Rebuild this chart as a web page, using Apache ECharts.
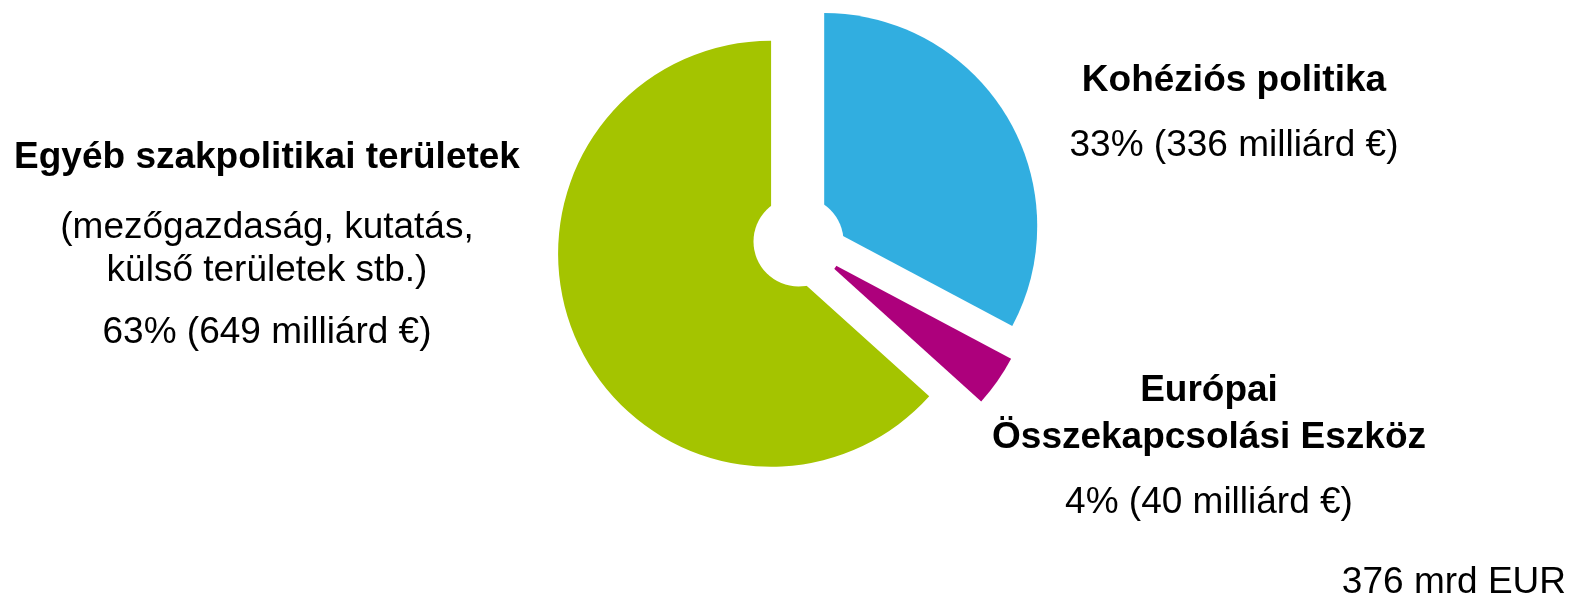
<!DOCTYPE html>
<html><head><meta charset="utf-8">
<script src="https://cdn.jsdelivr.net/npm/echarts@6/dist/echarts.min.js"></script>
<style>html,body{margin:0;padding:0;background:#fff}#c{width:1572px;height:598px}</style>
</head><body><div id="c"></div>
<script>
// ---- data ----
const categories = ['Kohéziós politika', 'Európai\nÖsszekapcsolási Eszköz', 'Egyéb szakpolitikai területek'];
const notes = ['', '', '(mezőgazdaság, kutatás,\nkülső területek stb.)'];
const values = [336, 40, 649];
const percents = [33, 4, 63];
const unitText = 'milliárd €';
const totalNote = '376 mrd EUR';

// ---- styles / layout ----
const colors = ['#31AEE0', '#AD007C', '#A4C400'];
const FONT = '"Liberation Sans", Arial, Helvetica, sans-serif';
const FS = 37;
const labelPos = [{x: 1234, y: 59}, {x: 1209, y: 367.5}, {x: 267, y: 136}];
const labelSpacing = [
  {titleLH: 44, gapA: 21, gapB: 0},
  {titleLH: 47, gapA: 19.5, gapB: 0},
  {titleLH: 44, gapA: 26.5, gapB: 18.5}
];

function labelText(i) {
  const lines = categories[i].split('\n').map(s => '{t|' + s + '}');
  lines.push('{ga| }');
  if (notes[i]) {
    notes[i].split('\n').forEach(s => lines.push('{n|' + s + '}'));
    lines.push('{gb| }');
  }
  lines.push('{n|' + percents[i] + '% (' + values[i] + ' ' + unitText + ')}');
  return lines.join('\n');
}

const labelGraphics = values.map((v, i) => {
  const sp = labelSpacing[i];
  return {
    type: 'text',
    x: labelPos[i].x,
    y: labelPos[i].y,
    silent: true,
    z: 10,
    style: {
      text: labelText(i),
      align: 'center',
      verticalAlign: 'top',
      fill: '#000',
      fontFamily: FONT,
      fontSize: FS,
      rich: {
        t: {fontFamily: FONT, fontWeight: 'bold', fontSize: FS, lineHeight: sp.titleLH, fill: '#000', align: 'center'},
        n: {fontFamily: FONT, fontWeight: 'normal', fontSize: FS, lineHeight: 43, fill: '#000', align: 'center'},
        ga: {fontSize: 1, lineHeight: sp.gapA, align: 'center'},
        gb: {fontSize: 1, lineHeight: sp.gapB, align: 'center'}
      }
    }
  };
});

const pieData = values.map((v, i) => ({
  name: categories[i],
  value: v,
  selected: true,
  itemStyle: {color: colors[i], borderWidth: 0}
}));

const chart = echarts.init(document.getElementById('c'), null, {renderer: 'canvas'});
chart.setOption({
  animation: false,
  backgroundColor: '#fff',
  title: {
    text: totalNote,
    right: 6,
    top: 562.5,
    padding: 0,
    textStyle: {fontFamily: FONT, fontWeight: 'normal', fontSize: FS, lineHeight: 40, color: '#000'}
  },
  graphic: labelGraphics,
  series: [
    {
      type: 'pie',
      center: [798.5, 241.5],
      radius: [0, 213],
      startAngle: 90,
      clockwise: true,
      selectedMode: 'multiple',
      selectedOffset: 30,
      avoidLabelOverlap: false,
      label: {show: false},
      labelLine: {show: false},
      emphasis: {disabled: true},
      select: {itemStyle: {borderWidth: 0}},
      itemStyle: {borderWidth: 0},
      data: pieData,
      z: 2
    },
    {
      type: 'pie',
      center: [798.5, 241.5],
      radius: [0, 45],
      silent: true,
      label: {show: false},
      labelLine: {show: false},
      emphasis: {disabled: true},
      itemStyle: {color: '#ffffff', borderWidth: 0},
      data: [{value: 1, name: 'hub'}],
      z: 5
    }
  ]
});
</script>
</body></html>
